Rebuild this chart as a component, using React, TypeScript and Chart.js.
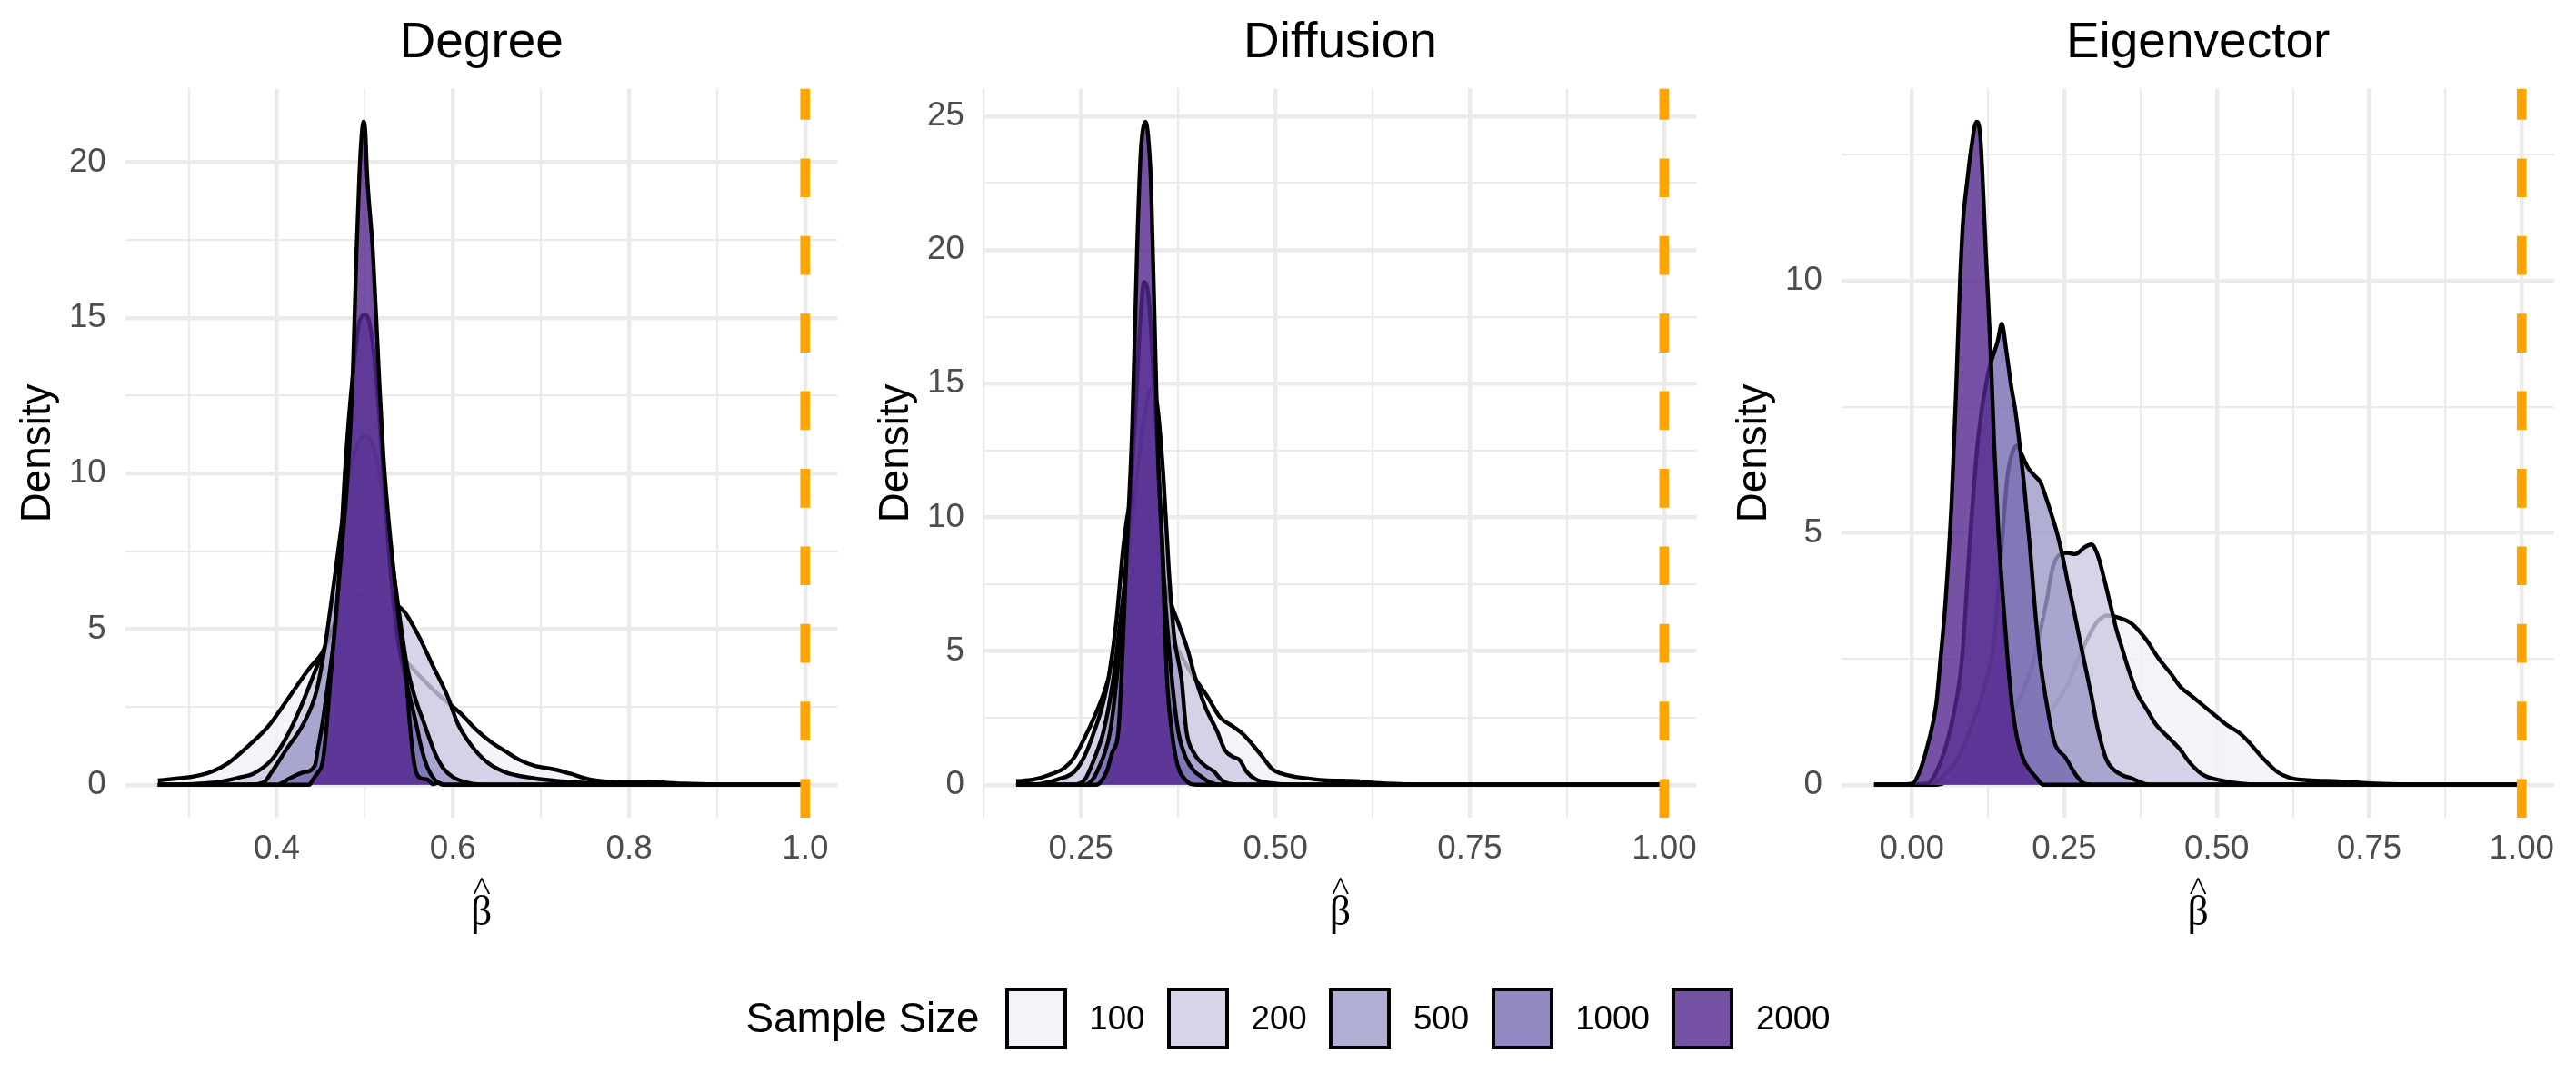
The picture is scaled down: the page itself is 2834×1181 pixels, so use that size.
import React, { useEffect, useRef } from "react";
import { Chart, registerables } from "chart.js";

Chart.register(...registerables);

type Pt = [number, number];

// ---------- legend / series meta ----------
const sampleSizes = ["100", "200", "500", "1000", "2000"];
const purples = ["#f2f0f7", "#cbc9e2", "#9e9ac8", "#756bb1", "#54278f"];
const fillAlpha = 0.8;
const trueBeta = 1.0;

// ---------- Degree densities ----------
const degree100: Pt[] = [[0.265,0.14],[0.285,0.2],[0.304,0.26],[0.325,0.41],[0.345,0.7],[0.369,1.28],[0.39,1.87],[0.41,2.65],[0.4265,3.33],[0.439,3.81],[0.448,4.1],[0.46,4.6],[0.475,5.1],[0.49,5.4],[0.505,5.4],[0.52,5.0],[0.54,4.2],[0.565,3.42],[0.5857,2.84],[0.61,2.26],[0.6265,1.77],[0.643,1.38],[0.659,1.09],[0.6755,0.8],[0.692,0.62],[0.716,0.49],[0.733,0.36],[0.757,0.165],[0.782,0.1],[0.822,0.09],[0.86,0.04],[0.9,0.01],[0.95,0],[1.0,0]];
const degree200: Pt[] = [[0.265,0],[0.3,0.02],[0.33,0.08],[0.345,0.15],[0.36,0.25],[0.3735,0.36],[0.394,0.8],[0.41,1.48],[0.4265,2.45],[0.439,3.33],[0.447,3.9],[0.46,4.8],[0.475,5.7],[0.49,6.1],[0.505,6.15],[0.52,6.0],[0.535,5.8],[0.545,5.56],[0.561,4.79],[0.5775,3.81],[0.594,2.84],[0.605,2.0],[0.62,1.3],[0.64,0.7],[0.66,0.4],[0.69,0.22],[0.72,0.12],[0.76,0.05],[0.8,0.01],[0.85,0],[1.0,0]];
const degree500: Pt[] = [[0.265,0],[0.37,0],[0.386,0.1],[0.394,0.4],[0.41,1.1],[0.431,2.0],[0.445,3.0],[0.455,4.5],[0.465,6.5],[0.475,8.6],[0.485,10.3],[0.495,11.1],[0.502,11.2],[0.51,10.8],[0.52,9.4],[0.53,7.4],[0.54,5.3],[0.548,3.8],[0.557,2.8],[0.567,2.0],[0.58,1.0],[0.59,0.5],[0.6,0.25],[0.615,0.08],[0.64,0],[1.0,0]];
const degree1000: Pt[] = [[0.265,0],[0.4,0],[0.414,0.2],[0.43,0.4],[0.443,0.6],[0.447,1.2],[0.452,2.0],[0.457,3.0],[0.462,4.0],[0.468,5.5],[0.4785,10.5],[0.4865,13.2],[0.494,14.9],[0.501,15.1],[0.508,14.4],[0.515,12.4],[0.522,9.6],[0.53,6.6],[0.538,4.6],[0.548,3.2],[0.558,2.0],[0.565,1.1],[0.572,0.5],[0.58,0.15],[0.59,0],[1.0,0]];
const degree2000: Pt[] = [[0.265,0],[0.4367,0],[0.441,0.17],[0.447,0.41],[0.451,0.6],[0.453,0.9],[0.457,2.0],[0.461,3.4],[0.467,5.4],[0.472,7.0],[0.477,8.6],[0.482,10.6],[0.4864,13.2],[0.4905,17.1],[0.494,19.7],[0.4965,20.9],[0.4985,21.3],[0.5005,21.0],[0.5024,19.7],[0.5092,17.1],[0.516,13.2],[0.521,10.6],[0.527,8.5],[0.533,6.8],[0.539,5.2],[0.547,3.4],[0.551,2.0],[0.555,0.9],[0.559,0.35],[0.565,0.2],[0.5714,0.17],[0.5775,0.02],[0.584,0.07],[0.59,0],[1.0,0]];

// ---------- Diffusion densities ----------
const diffusion100: Pt[] = [[0.1666,0.14],[0.1875,0.19],[0.208,0.36],[0.229,0.64],[0.2417,1.04],[0.254,1.72],[0.2667,2.51],[0.2792,3.42],[0.2854,3.98],[0.295,4.9],[0.31,5.9],[0.325,6.4],[0.34,6.4],[0.355,6.0],[0.37,5.3],[0.385,4.5],[0.3959,4.0],[0.4125,3.3],[0.4292,2.51],[0.446,2.17],[0.4584,1.89],[0.4709,1.49],[0.4834,1.04],[0.496,0.59],[0.5126,0.38],[0.5376,0.25],[0.5626,0.17],[0.604,0.14],[0.625,0.08],[0.667,0.02],[0.7,0],[1.0,0]];
const diffusion200: Pt[] = [[0.1666,0],[0.2,0.05],[0.22,0.2],[0.2417,0.5],[0.255,1.1],[0.267,2.0],[0.278,3.0],[0.2854,4.0],[0.295,6.0],[0.3048,9.0],[0.312,10.4],[0.32,10.8],[0.33,10.5],[0.345,9.2],[0.355,7.8],[0.3667,6.7],[0.377,5.9],[0.3876,5.0],[0.3959,4.1],[0.41,2.9],[0.425,2.0],[0.435,1.3],[0.445,1.05],[0.454,0.93],[0.4626,0.5],[0.475,0.2],[0.49,0.08],[0.51,0.02],[0.53,0],[1.0,0]];
const diffusion500: Pt[] = [[0.1666,0],[0.24,0],[0.255,0.2],[0.2604,0.5],[0.27,1.2],[0.279,2.0],[0.2917,4.0],[0.3,6.0],[0.31,8.5],[0.32,11.0],[0.33,13.5],[0.34,14.8],[0.348,14.2],[0.356,11.5],[0.363,8.0],[0.37,5.5],[0.379,4.0],[0.3855,2.0],[0.395,1.2],[0.41,0.7],[0.421,0.5],[0.43,0.2],[0.44,0.05],[0.46,0],[1.0,0]];
const diffusion1000: Pt[] = [[0.1666,0],[0.255,0],[0.265,0.2],[0.2708,0.5],[0.2875,2.0],[0.296,4.0],[0.305,7.0],[0.313,10.5],[0.32,14.0],[0.326,17.2],[0.331,18.8],[0.337,18.2],[0.343,15.5],[0.35,11.5],[0.357,7.5],[0.3667,4.0],[0.375,2.0],[0.385,1.0],[0.396,0.5],[0.405,0.3],[0.415,0.1],[0.43,0],[1.0,0]];
const diffusion2000: Pt[] = [[0.1666,0],[0.27,0],[0.275,0.1],[0.283,0.5],[0.29,1.2],[0.298,2.0],[0.302,4.0],[0.3063,7.0],[0.31,9.5],[0.316,13.5],[0.3222,20.1],[0.3265,23.5],[0.3295,24.5],[0.333,24.8],[0.3365,24.2],[0.34,22.5],[0.3455,16.3],[0.3494,12.0],[0.3542,9.0],[0.3605,4.0],[0.3667,2.0],[0.372,1.0],[0.377,0.5],[0.384,0.2],[0.392,0.02],[0.4,0],[1.0,0]];

// ---------- Eigenvector densities ----------
const eigen100: Pt[] = [[-0.0617,0],[0.0,0.01],[0.027,0.03],[0.088,0.12],[0.149,0.48],[0.188,0.9],[0.21,1.14],[0.236,1.6],[0.258,2.05],[0.273,2.5],[0.29,2.95],[0.305,3.25],[0.321,3.36],[0.338,3.32],[0.36,3.2],[0.383,2.9],[0.405,2.5],[0.425,2.2],[0.44,1.95],[0.46,1.75],[0.48,1.55],[0.5,1.35],[0.515,1.2],[0.54,1.0],[0.556,0.8],[0.574,0.55],[0.6,0.25],[0.62,0.14],[0.65,0.09],[0.7,0.07],[0.75,0.03],[0.8,0.01],[0.86,0],[1.0,0]];
const eigen200: Pt[] = [[-0.0617,0],[0.04,0],[0.058,0.06],[0.1,0.3],[0.137,0.78],[0.167,1.45],[0.197,2.35],[0.2095,3.0],[0.2217,3.7],[0.2308,4.3],[0.244,4.58],[0.255,4.6],[0.268,4.58],[0.2838,4.72],[0.2944,4.77],[0.305,4.55],[0.315,4.1],[0.325,3.6],[0.335,3.1],[0.345,2.7],[0.355,2.3],[0.37,1.8],[0.385,1.5],[0.4,1.2],[0.42,0.95],[0.44,0.7],[0.455,0.45],[0.477,0.2],[0.51,0.08],[0.545,0.02],[0.57,0],[1.0,0]];
const eigen500: Pt[] = [[-0.0617,0],[0.03,0],[0.0456,0.12],[0.076,0.54],[0.1063,1.45],[0.125,2.2],[0.1353,2.9],[0.1459,4.5],[0.1565,6.1],[0.165,6.6],[0.1724,6.73],[0.1804,6.55],[0.19,6.3],[0.2,6.15],[0.211,6.0],[0.22,5.7],[0.228,5.4],[0.238,5.0],[0.246,4.6],[0.256,4.0],[0.265,3.5],[0.27,3.2],[0.28,2.6],[0.2947,1.75],[0.305,1.1],[0.319,0.5],[0.331,0.3],[0.347,0.18],[0.36,0.13],[0.375,0.05],[0.39,0],[1.0,0]];
const eigen1000: Pt[] = [[-0.0617,0],[0.02,0],[0.0395,0.24],[0.0638,1.14],[0.0822,2.5],[0.0955,4.9],[0.1088,6.9],[0.1247,8.15],[0.1406,8.8],[0.1475,9.15],[0.155,8.6],[0.163,7.9],[0.17,7.4],[0.1836,6.0],[0.193,4.8],[0.2018,3.5],[0.21,2.5],[0.22,1.69],[0.2336,0.85],[0.252,0.54],[0.27,0.18],[0.2836,0.02],[0.3,0],[1.0,0]];
const eigen2000: Pt[] = [[-0.0617,0],[0.0,0.02],[0.012,0.24],[0.027,0.84],[0.04,1.6],[0.047,2.5],[0.055,3.6],[0.0656,5.72],[0.0735,8.14],[0.079,10.0],[0.084,11.2],[0.09,11.9],[0.097,12.6],[0.1061,13.16],[0.112,12.9],[0.118,11.5],[0.1215,10.5],[0.1295,8.5],[0.1348,6.8],[0.142,5.0],[0.15,3.6],[0.157,2.5],[0.165,1.5],[0.173,0.9],[0.183,0.5],[0.19,0.35],[0.2035,0.15],[0.2157,0],[1.0,0]];

// ---------- axis breaks / labels ----------
const degreeXBreaks = [0.4, 0.6, 0.8, 1.0];
const degreeXLabels = ["0.4", "0.6", "0.8", "1.0"];
const diffusionXBreaks = [0.25, 0.5, 0.75, 1.0];
const diffusionXLabels = ["0.25", "0.50", "0.75", "1.00"];
const eigenXBreaks = [0, 0.25, 0.5, 0.75, 1.0];
const eigenXLabels = ["0.00", "0.25", "0.50", "0.75", "1.00"];
const degreeYBreaks = [0, 5, 10, 15, 20];
const diffusionYBreaks = [0, 5, 10, 15, 20, 25];
const eigenYBreaks = [0, 5, 10];

const panelTitles = ["Degree", "Diffusion", "Eigenvector"];

// ---------- layout ----------
const PAGE_W = 2834;
const PAGE_H = 1181;
const CANVAS_W = 945;
const AREA_TOP = 97.4;
const AREA_BOTTOM = 900.3;
const SANS = "'Liberation Sans', Arial, Helvetica, sans-serif";
const SERIF = "'Liberation Serif', 'Times New Roman', serif";

const panels = [
  { title: panelTitles[0], series: [degree100, degree200, degree500, degree1000, degree2000], xBreaks: degreeXBreaks, xLabels: degreeXLabels, yBreaks: degreeYBreaks, left: 0, areaLeft: 138.1, areaRight: 921.4 },
  { title: panelTitles[1], series: [diffusion100, diffusion200, diffusion500, diffusion1000, diffusion2000], xBreaks: diffusionXBreaks, xLabels: diffusionXLabels, yBreaks: diffusionYBreaks, left: 944, areaLeft: 138.3, areaRight: 922.6 },
  { title: panelTitles[2], series: [eigen100, eigen200, eigen500, eigen1000, eigen2000], xBreaks: eigenXBreaks, xLabels: eigenXLabels, yBreaks: eigenYBreaks, left: 1889, areaLeft: 137.3, areaRight: 920.9 },
];

function rgba(hex: string, a: number) {
  const r = parseInt(hex.slice(1, 3), 16);
  const g = parseInt(hex.slice(3, 5), 16);
  const b = parseInt(hex.slice(5, 7), 16);
  return `rgba(${r},${g},${b},${a})`;
}

function minorBreaks(major: number[], lo: number, hi: number) {
  const step = major[1] - major[0];
  const out: number[] = [];
  for (let k = -1; k < major.length; k++) {
    const v = major[0] + step * k + step / 2;
    if (v >= lo && v <= hi) out.push(+v.toFixed(6));
  }
  return out;
}

const near = (a: number, b: number) => Math.abs(a - b) < 1e-6;

function DensityPanel({ panel }: { panel: any }) {
  const ref = useRef<HTMLCanvasElement | null>(null);

  useEffect(() => {
    const canvas = ref.current;
    if (!canvas) return;

    const pts: Pt[] = panel.series.flat();
    const xs = pts.map((p) => p[0]).concat([trueBeta]);
    const ys = pts.map((p) => p[1]).concat([0]);
    const xLo = Math.min(...xs), xHi = Math.max(...xs);
    const yLo = Math.min(...ys), yHi = Math.max(...ys);
    const xMin = xLo - (xHi - xLo) * 0.05, xMax = xHi + (xHi - xLo) * 0.05;
    const yMin = yLo - (yHi - yLo) * 0.05, yMax = yHi + (yHi - yLo) * 0.05;

    const xMinor = minorBreaks(panel.xBreaks, xMin, xMax);
    const yMinor = minorBreaks(panel.yBreaks, yMin, yMax);
    const xTicks = [...panel.xBreaks, ...xMinor].sort((a, b) => a - b);
    const yTicks = [...panel.yBreaks, ...yMinor].sort((a, b) => a - b);
    const isMajor = (list: number[], v: number) => list.some((m) => near(m, v));

    const datasets: any[] = panel.series.map((s: Pt[], i: number) => ({
      label: sampleSizes[i],
      data: s.map(([x, y]) => ({ x, y })),
      backgroundColor: rgba(purples[i], fillAlpha),
      borderColor: "#000000",
      borderWidth: 4.4,
      borderJoinStyle: "round",
      borderCapStyle: "butt",
      fill: "origin",
      pointRadius: 0,
      pointHoverRadius: 0,
      cubicInterpolationMode: "monotone",
      order: 10 - i,
    }));
    datasets.push({
      label: "truth",
      data: [{ x: trueBeta, y: yMin }, { x: trueBeta, y: yMax }],
      borderColor: "#FFA500",
      borderWidth: 10.7,
      borderDash: [42.7, 42.7],
      borderCapStyle: "butt",
      fill: false,
      pointRadius: 0,
      pointHoverRadius: 0,
      tension: 0,
      order: 0,
    });

    const textPlugin = {
      id: "panelText",
      afterDraw(chart: any) {
        const { ctx, chartArea } = chart;
        const cx = (chartArea.left + chartArea.right) / 2;
        const cy = (chartArea.top + chartArea.bottom) / 2;
        ctx.save();
        ctx.fillStyle = "#000000";
        ctx.textAlign = "center";
        ctx.textBaseline = "alphabetic";
        // panel title
        ctx.font = `55px ${SANS}`;
        ctx.fillText(panel.title, cx, 63.3);
        // x-axis title: beta with a hat
        ctx.font = `45.8px ${SERIF}`;
        ctx.fillText("β", cx, 1018);
        ctx.save();
        ctx.textAlign = "left";
        const m = ctx.measureText("^");
        const L = m.actualBoundingBoxLeft;
        const R = m.actualBoundingBoxRight;
        const gw = Math.max(1, L + R);
        const gh = Math.max(1, m.actualBoundingBoxAscent + m.actualBoundingBoxDescent);
        ctx.translate(cx, 966);
        ctx.scale(19 / gw, 18 / gh);
        ctx.fillText("^", (L - R) / 2, m.actualBoundingBoxAscent);
        ctx.restore();
        // y-axis title
        ctx.translate(chartArea.left - 83, cy);
        ctx.rotate(-Math.PI / 2);
        ctx.font = `45.8px ${SANS}`;
        ctx.fillText("Density", 0, 0);
        ctx.restore();
      },
    };

    const chart = new Chart(canvas, {
      type: "line",
      data: { datasets },
      plugins: [textPlugin],
      options: {
        responsive: false,
        animation: false,
        devicePixelRatio: 1,
        events: [],
        layout: { padding: { left: 0, right: CANVAS_W - panel.areaRight, top: AREA_TOP, bottom: 0 } },
        plugins: { legend: { display: false }, tooltip: { enabled: false }, title: { display: false } },
        scales: {
          x: {
            type: "linear",
            min: xMin,
            max: xMax,
            bounds: "data",
            afterBuildTicks: (s: any) => { s.ticks = xTicks.map((v) => ({ value: v })); },
            afterFit: (s: any) => { s.height = PAGE_H - AREA_BOTTOM; },
            border: { display: false },
            grid: {
              drawTicks: false,
              color: "#EBEBEB",
              lineWidth: (c: any) => (c.tick && isMajor(panel.xBreaks, c.tick.value) ? 4.4 : 2.2),
            },
            ticks: {
              autoSkip: false,
              maxRotation: 0,
              minRotation: 0,
              padding: 12.7,
              color: "#4D4D4D",
              font: { family: SANS, size: 36.7 },
              callback: (v: any) => {
                const idx = panel.xBreaks.findIndex((mm: number) => near(mm, Number(v)));
                return idx >= 0 ? panel.xLabels[idx] : "";
              },
            },
          },
          y: {
            type: "linear",
            min: yMin,
            max: yMax,
            bounds: "data",
            afterBuildTicks: (s: any) => { s.ticks = yTicks.map((v) => ({ value: v })); },
            afterFit: (s: any) => { s.width = panel.areaLeft; },
            border: { display: false },
            grid: {
              drawTicks: false,
              color: "#EBEBEB",
              lineWidth: (c: any) => (c.tick && isMajor(panel.yBreaks, c.tick.value) ? 4.4 : 2.2),
            },
            ticks: {
              autoSkip: false,
              padding: 21.4,
              color: "#4D4D4D",
              font: { family: SANS, size: 36.7 },
              callback: (v: any) => (isMajor(panel.yBreaks, Number(v)) ? String(Math.round(Number(v))) : ""),
            },
          },
        },
      } as any,
    });

    return () => chart.destroy();
  }, [panel]);

  return (
    <canvas
      ref={ref}
      width={CANVAS_W}
      height={PAGE_H}
      style={{ position: "absolute", left: panel.left, top: 0, width: CANVAS_W, height: PAGE_H, display: "block" }}
    />
  );
}

function Legend() {
  return (
    <div
      style={{
        position: "absolute",
        left: 0,
        top: 1087,
        width: PAGE_W,
        height: 68,
        display: "flex",
        alignItems: "center",
        justifyContent: "center",
        fontFamily: SANS,
        color: "#000000",
      }}
    >
      <span style={{ fontSize: 45.8, lineHeight: 1, marginRight: 28.2, whiteSpace: "nowrap" }}>Sample Size</span>
      {sampleSizes.map((s, i) => (
        <React.Fragment key={s}>
          <span
            style={{
              width: 68,
              height: 68,
              boxSizing: "border-box",
              border: "4px solid #000000",
              background: rgba(purples[i], fillAlpha),
              marginLeft: i === 0 ? 0 : 24.6,
              flex: "0 0 auto",
            }}
          />
          <span style={{ fontSize: 36.7, lineHeight: 1, marginLeft: 24.5, whiteSpace: "nowrap" }}>{s}</span>
        </React.Fragment>
      ))}
    </div>
  );
}

export default function App() {
  return (
    <div style={{ position: "absolute", left: 0, top: 0, width: PAGE_W, height: PAGE_H, background: "#ffffff", overflow: "hidden" }}>
      {panels.map((p) => (
        <DensityPanel key={p.title} panel={p} />
      ))}
      <Legend />
    </div>
  );
}
